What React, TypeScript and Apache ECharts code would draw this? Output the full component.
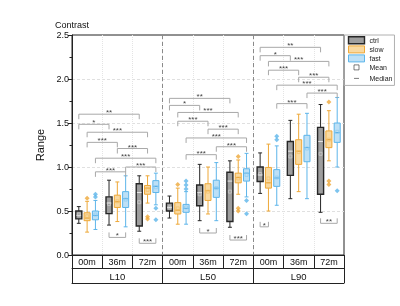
import React, { useEffect, useRef } from 'react';
import * as echarts from 'echarts';

const subLabels = ['00m', '36m', '72m', '00m', '36m', '72m', '00m', '36m', '72m'];
const groupLabels = ['L10', 'L50', 'L90'];
const seriesNames = ['ctrl', 'slow', 'fast'];

// [whisker low, Q1, median, Q3, whisker high, mean] per category (L10-00m ... L90-72m)
const ctrlBoxes = [
  [0.36, 0.41, 0.45, 0.5, 0.55, 0.46],
  [0.34, 0.47, 0.59, 0.66, 0.85, 0.58],
  [0.27, 0.33, 0.71, 0.81, 0.9, 0.6],
  [0.42, 0.5, 0.54, 0.59, 0.67, 0.54],
  [0.39, 0.56, 0.71, 0.795, 1.03, 0.69],
  [0.315, 0.38, 0.84, 0.94, 1.07, 0.72],
  [0.7, 0.835, 0.91, 1.0, 1.16, 0.92],
  [0.64, 0.905, 1.18, 1.29, 1.53, 1.12],
  [0.485, 0.69, 1.29, 1.45, 1.71, 1.15],
];
const slowBoxes = [
  [0.26, 0.39, 0.42, 0.48, 0.61, 0.44],
  [0.38, 0.54, 0.605, 0.68, 0.83, 0.61],
  [0.59, 0.69, 0.76, 0.79, 0.9, 0.74],
  [0.35, 0.466, 0.51, 0.595, 0.76, 0.53],
  [0.466, 0.62, 0.73, 0.81, 1.0, 0.72],
  [0.69, 0.82, 0.88, 0.93, 1.08, 0.87],
  [0.5, 0.76, 0.82, 0.995, 1.26, 0.87],
  [0.72, 1.03, 1.18, 1.31, 1.6, 1.17],
  [1.07, 1.22, 1.31, 1.41, 1.64, 1.31],
];
const fastBoxes = [
  [0.29, 0.4, 0.45, 0.5, 0.62, 0.46],
  [0.32, 0.54, 0.64, 0.72, 0.9, 0.63],
  [0.57, 0.71, 0.78, 0.845, 0.93, 0.77],
  [0.35, 0.485, 0.53, 0.575, 0.72, 0.54],
  [0.39, 0.655, 0.76, 0.85, 1.05, 0.76],
  [0.66, 0.84, 0.93, 0.98, 1.155, 0.91],
  [0.565, 0.78, 0.875, 0.97, 1.24, 0.88],
  [0.64, 1.06, 1.22, 1.36, 1.61, 1.21],
  [1.0, 1.28, 1.39, 1.5, 1.79, 1.4],
];

// outliers: [category index, value]
const ctrlOutliers: number[][] = [];
const slowOutliers = [
  [0, 0.645], [2, 0.435], [2, 0.41], [3, 0.8], [5, 1.12], [5, 0.53], [5, 0.5],
  [8, 1.74], [8, 0.84], [8, 0.8],
];
const fastOutliers = [
  [0, 0.69], [0, 0.66], [2, 0.53], [2, 0.4], [3, 0.84], [3, 0.795], [3, 0.75],
  [5, 0.62], [5, 0.47], [6, 1.35], [6, 1.31], [8, 0.73],
];

// significance brackets: [from category, from series, to category, to series, y, label, side]
const brackets: any[] = [
  [0, 0, 2, 0, 1.6, '**', 1],
  [0, 0, 1, 0, 1.485, '*', 1],
  [0, 1, 2, 1, 1.395, '***', 1],
  [0, 1, 1, 1, 1.28, '***', 1],
  [1, 1, 2, 1, 1.21, '***', 1],
  [0, 2, 2, 2, 1.1, '***', 1],
  [1, 2, 2, 2, 1.0, '***', 1],
  [0, 2, 1, 2, 0.945, '***', 1],
  [1, 0, 1, 2, 0.2, '*', -1],
  [2, 0, 2, 2, 0.133, '***', -1],
  [3, 0, 5, 0, 1.78, '**', 1],
  [3, 0, 4, 0, 1.7, '*', 1],
  [3, 1, 5, 1, 1.62, '***', 1],
  [3, 1, 4, 1, 1.52, '***', 1],
  [4, 1, 5, 1, 1.43, '***', 1],
  [3, 2, 5, 2, 1.33, '***', 1],
  [4, 2, 5, 2, 1.23, '***', 1],
  [3, 2, 4, 2, 1.14, '***', 1],
  [4, 0, 4, 2, 0.25, '*', -1],
  [5, 0, 5, 2, 0.17, '***', -1],
  [6, 0, 8, 0, 2.36, '**', 1],
  [6, 0, 7, 0, 2.265, '*', 1],
  [6, 1, 8, 1, 2.2, '***', 1],
  [6, 1, 7, 1, 2.1, '***', 1],
  [7, 1, 8, 1, 2.02, '***', 1],
  [6, 2, 8, 2, 1.93, '***', 1],
  [7, 2, 8, 2, 1.84, '***', 1],
  [6, 2, 7, 2, 1.72, '***', 1],
  [6, 0, 6, 1, 0.32, '*', -1],
  [8, 0, 8, 2, 0.36, '**', -1],
];

const offsets = [-0.275, 0, 0.275];
const boxWidth = 0.2;
const capWidth = 0.13;
const styles = [
  { fill: '#9e9e9e', line: '#262626', median: '#e6e6e6', mean: '#d0d0d0', bw: 1.4 },
  { fill: '#f9d9a0', line: '#eea838', median: '#e49a25', mean: '#f3c06a', bw: 1 },
  { fill: '#bde0f6', line: '#5db5ea', median: '#3fa3e2', mean: '#8ccbf0', bw: 1 },
];
const FONT = '"Liberation Sans", Arial, sans-serif';

const makeBoxRender = (s: number) => (params: any, api: any) => {
  const x = api.value(0) + 0.5 + offsets[s];
  const st = styles[s];
  const pLow = api.coord([x, api.value(1)]);
  const cx = pLow[0];
  const yLow = pLow[1];
  const yQ1 = api.coord([x, api.value(2)])[1];
  const yMed = api.coord([x, api.value(3)])[1];
  const yQ3 = api.coord([x, api.value(4)])[1];
  const yHigh = api.coord([x, api.value(5)])[1];
  const yMean = api.coord([x, api.value(6)])[1];
  const hw = api.size([boxWidth, 0])[0] / 2;
  const cw = api.size([capWidth, 0])[0] / 2;
  const ls = { stroke: st.line, lineWidth: 1 };
  return {
    type: 'group',
    children: [
      { type: 'line', shape: { x1: cx, y1: yLow, x2: cx, y2: yQ1 }, style: ls },
      { type: 'line', shape: { x1: cx, y1: yQ3, x2: cx, y2: yHigh }, style: ls },
      { type: 'line', shape: { x1: cx - cw, y1: yLow, x2: cx + cw, y2: yLow }, style: ls },
      { type: 'line', shape: { x1: cx - cw, y1: yHigh, x2: cx + cw, y2: yHigh }, style: ls },
      {
        type: 'rect',
        shape: { x: cx - hw, y: yQ3, width: 2 * hw, height: yQ1 - yQ3 },
        style: { fill: st.fill, stroke: st.line, lineWidth: st.bw },
      },
      { type: 'line', shape: { x1: cx - hw + 0.7, y1: yMed, x2: cx + hw - 0.7, y2: yMed }, style: { stroke: st.median, lineWidth: 1 } },
      {
        type: 'rect',
        shape: { x: cx - 1.5, y: yMean - 1.5, width: 3, height: 3 },
        style: { fill: 'none', stroke: st.mean, lineWidth: 0.7 },
      },
    ],
  };
};

const bracketRender = (params: any, api: any) => {
  const b = brackets[params.dataIndex];
  const x1 = b[0] + 0.5 + offsets[b[1]];
  const x2 = b[2] + 0.5 + offsets[b[3]];
  const p1 = api.coord([x1, b[4]]);
  const p2 = api.coord([x2, b[4]]);
  const d = b[6] * 5;
  return {
    type: 'group',
    children: [
      {
        type: 'polyline',
        shape: { points: [[p1[0], p1[1] + d], [p1[0], p1[1]], [p2[0], p2[1]], [p2[0], p2[1] + d]] },
        style: { stroke: '#a8a8a8', fill: 'none', lineWidth: 1 },
      },
      {
        type: 'text',
        x: (p1[0] + p2[0]) / 2,
        y: p1[1] + 2.5,
        style: { text: b[5], fontSize: 8, fill: '#444', align: 'center', verticalAlign: 'bottom', fontFamily: FONT },
      },
    ],
  };
};

export default function App() {
  const ref = useRef<HTMLDivElement>(null);
  useEffect(() => {
    if (!ref.current) return;
    const chart = echarts.init(ref.current, undefined, { renderer: 'svg' });
    const boxSets = [ctrlBoxes, slowBoxes, fastBoxes];
    const outSets = [ctrlOutliers, slowOutliers, fastOutliers];
    const series: any[] = [];
    seriesNames.forEach((name, s) => {
      series.push({
        name,
        type: 'custom',
        xAxisIndex: 0,
        yAxisIndex: 0,
        renderItem: makeBoxRender(s),
        encode: { x: 0, y: [1, 5] },
        itemStyle: { color: styles[s].fill, borderColor: styles[s].line },
        data: boxSets[s].map((b, i) => [i, ...b]),
        z: 3,
      });
      series.push({
        name: name + ' outliers',
        type: 'scatter',
        xAxisIndex: 0,
        yAxisIndex: 0,
        symbol: 'diamond',
        symbolSize: 5,
        itemStyle: { color: styles[s].line },
        data: outSets[s].map((o) => [o[0] + 0.5 + offsets[s], o[1]]),
        z: 3,
      });
    });
    series.push({
      name: 'brackets',
      type: 'custom',
      xAxisIndex: 0,
      yAxisIndex: 0,
      renderItem: bracketRender,
      encode: { x: 0, y: 1 },
      data: brackets.map((b) => [b[0] + 0.5 + offsets[b[1]], b[4]]),
      z: 4,
      silent: true,
    });
    series.push({ name: 'Mean', type: 'scatter', data: [] });
    series.push({ name: 'Median', type: 'scatter', data: [] });

    chart.setOption({
      animation: false,
      textStyle: { fontFamily: FONT },
      title: {
        text: 'Contrast',
        left: 55,
        top: 20,
        padding: 0,
        textStyle: { fontSize: 9, fontWeight: 'normal', color: '#111', fontFamily: FONT },
      },
      grid: {
        left: 72,
        right: 56,
        top: 35,
        bottom: 51,
        show: true,
        borderColor: '#222',
        borderWidth: 1,
        backgroundColor: 'transparent',
      },
      legend: {
        orient: 'vertical',
        left: 344,
        top: 35,
        itemWidth: 16,
        itemHeight: 7,
        itemGap: 1,
        padding: [1, 2, 1, 2],
        borderColor: '#b0b0b0',
        borderWidth: 1,
        selectedMode: false,
        textStyle: { fontSize: 7, color: '#222', fontFamily: FONT, lineHeight: 8 },
        data: [
          { name: 'ctrl', icon: 'rect', itemStyle: { color: styles[0].fill, borderColor: styles[0].line, borderWidth: 1.4 } },
          { name: 'slow', icon: 'rect', itemStyle: { color: styles[1].fill, borderColor: styles[1].line, borderWidth: 1 } },
          { name: 'fast', icon: 'rect', itemStyle: { color: styles[2].fill, borderColor: styles[2].line, borderWidth: 1 } },
          { name: 'Mean', icon: 'path://M0,0M16,7M5.5,1h5v5h-5z', itemStyle: { color: '#fff', borderColor: '#333', borderWidth: 0.8 } },
          { name: 'Median', icon: 'path://M0,0M16,7M5.5,3.5h5', itemStyle: { color: 'none', borderColor: '#333', borderWidth: 0.8 } },
        ],
      },
      xAxis: [
        {
          type: 'value',
          min: 0,
          max: 9,
          interval: 1,
          position: 'bottom',
          axisLine: { show: true, lineStyle: { color: '#222', width: 1 } },
          axisTick: { show: false },
          axisLabel: { show: false },
          splitLine: { show: true, showMinLine: false, showMaxLine: false, lineStyle: { color: '#e4e4e4', type: 'dotted', width: 1 } },
        },
        {
          type: 'value',
          min: 0,
          max: 9,
          interval: 3,
          position: 'bottom',
          axisLine: { show: false },
          axisTick: { show: false },
          axisLabel: { show: false },
          splitLine: { show: true, showMinLine: false, showMaxLine: false, lineStyle: { color: '#8a8a8a', type: [4, 3], width: 1 } },
        },
        {
          type: 'category',
          data: subLabels,
          position: 'bottom',
          offset: 13,
          axisLine: { show: true, lineStyle: { color: '#222', width: 1 } },
          axisTick: { show: true, inside: true, length: 13, interval: 0, lineStyle: { color: '#222', width: 1 } },
          axisLabel: { inside: true, margin: 2, interval: 0, fontSize: 9, color: '#111', fontFamily: FONT },
          splitLine: { show: false },
        },
        {
          type: 'category',
          data: groupLabels,
          position: 'bottom',
          offset: 28,
          axisLine: { show: true, lineStyle: { color: '#222', width: 1 } },
          axisTick: { show: true, inside: true, length: 15, interval: 0, lineStyle: { color: '#222', width: 1 } },
          axisLabel: { inside: true, margin: 2, interval: 0, fontSize: 9.5, color: '#111', fontFamily: FONT },
          splitLine: { show: false },
        },
      ],
      yAxis: {
        type: 'value',
        min: 0,
        max: 2.5,
        interval: 0.5,
        name: 'Range',
        nameLocation: 'middle',
        nameGap: 25,
        nameTextStyle: { fontSize: 11, color: '#111', fontFamily: FONT },
        axisLine: { show: true, lineStyle: { color: '#222', width: 1 } },
        axisTick: { show: true, length: 4, lineStyle: { color: '#222' } },
        minorTick: { show: true, splitNumber: 2, length: 2.5, lineStyle: { color: '#222' } },
        axisLabel: { fontSize: 9, margin: 3, color: '#111', fontFamily: FONT, formatter: (v: number) => v.toFixed(1) },
        splitLine: { show: true, showMinLine: false, showMaxLine: false, lineStyle: { color: '#e0e0e0', type: [3, 2], width: 1 } },
      },
      series,
    });
    return () => chart.dispose();
  }, []);
  return <div ref={ref} style={{ position: 'fixed', left: 0, top: 0, width: 400, height: 306 }} />;
}
